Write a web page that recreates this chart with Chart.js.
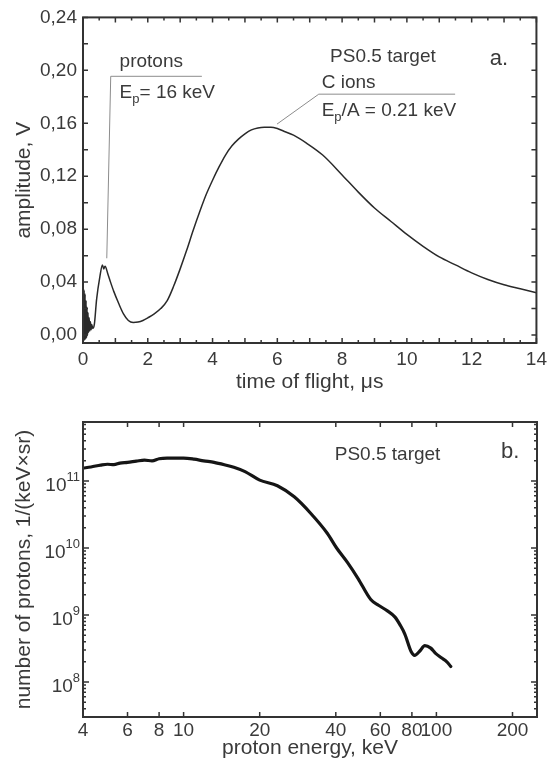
<!DOCTYPE html>
<html>
<head>
<meta charset="utf-8">
<script src="https://cdn.jsdelivr.net/npm/chart.js@4.4.1/dist/chart.umd.min.js"></script>
<style>
  html, body { margin: 0; padding: 0; background: #fff; }
  canvas { display: block; }
</style>
</head>
<body>
<canvas id="tof" width="552" height="400"></canvas>
<canvas id="spectrum" width="552" height="362"></canvas>
<script>
// panel a: time-of-flight signal
const tofTime = [0, 0.02, 0.035, 0.05, 0.065, 0.08, 0.095, 0.11, 0.125, 0.14, 0.155, 0.17, 0.19, 0.21, 0.23, 0.25, 0.27, 0.3,
  0.35, 0.42, 0.52, 0.6, 0.64, 0.68, 0.77, 0.85, 0.95, 1.1, 1.25, 1.4, 1.55, 1.7, 1.85, 2.0, 2.2, 2.4, 2.6, 2.8,
  3.0, 3.2, 3.4, 3.6, 3.8, 4.0, 4.2, 4.4, 4.6, 4.8, 5.0, 5.2, 5.4, 5.6, 5.8, 6.0, 6.2, 6.5, 6.9, 7.4, 8.0, 8.5,
  9.0, 9.5, 10.0, 10.5, 11.0, 11.5, 12.0, 12.5, 13.0, 13.5, 14.0];
const tofAmplitude = [0.030, -0.004, 0.034, -0.004, 0.031, -0.003, 0.026, -0.002, 0.021, 0.000, 0.017, 0.002, 0.013, 0.003, 0.010, 0.004, 0.008, 0.005,
  0.008, 0.027, 0.044, 0.053, 0.050, 0.052, 0.046, 0.040, 0.033, 0.024, 0.016, 0.011, 0.0095, 0.0098, 0.011, 0.013, 0.016, 0.020, 0.026, 0.037,
  0.050, 0.064, 0.079, 0.093, 0.106, 0.117, 0.127, 0.136, 0.143, 0.148, 0.152, 0.155, 0.1565, 0.157, 0.157, 0.156, 0.154, 0.151, 0.145, 0.136, 0.121, 0.108,
  0.096, 0.086, 0.076, 0.067, 0.059, 0.053, 0.047, 0.042, 0.038, 0.035, 0.032];
const tofTicks = [0, 2, 4, 6, 8, 10, 12, 14];
const ampTicks = [0, 0.04, 0.08, 0.12, 0.16, 0.20, 0.24];

// panel b: proton energy spectrum
const protonEnergy = [4, 4.3, 4.7, 5.0, 5.3, 5.6, 6.0, 6.5, 7.0, 7.5, 8.0, 8.6, 9.3, 10, 11, 12, 13.2, 14.5, 15.8, 17.5,
  20, 23.5, 27.4, 31.8, 37, 40.3, 44.6, 49, 55, 59, 64, 68.6, 72, 75, 79.6, 82, 86, 90, 95, 99, 104.6, 110, 114];
const protonCount = [1.56e11, 1.62e11, 1.73e11, 1.78e11, 1.75e11, 1.85e11, 1.9e11, 1.98e11, 2.05e11, 2.0e11, 2.15e11, 2.2e11, 2.2e11, 2.2e11, 2.12e11, 2.0e11, 1.9e11, 1.75e11, 1.6e11, 1.38e11,
  1.03e11, 8.5e10, 5.8e10, 3.3e10, 1.66e10, 1.0e10, 6.0e9, 3.5e9, 1.7e9, 1.4e9, 1.15e9, 9.3e8, 7e8, 5.2e8, 2.8e8, 2.5e8, 2.9e8, 3.5e8, 3.2e8, 2.7e8, 2.3e8, 2.0e8, 1.7e8];
const energyTicks = [4, 6, 8, 10, 20, 40, 60, 80, 100, 200];
const countTicks = [1e8, 1e9, 1e10, 1e11];

const textColor = '#3a3a3a';
const fontFamily = '"Liberation Sans", Arial, sans-serif';
Chart.defaults.font.family = fontFamily;
Chart.defaults.color = textColor;

// box round the plot + inward tick marks on all four sides
const frame = {
  id: 'frame',
  afterDatasetsDraw(chart, args, o) {
    const { ctx, chartArea: a } = chart;
    const { x, y } = chart.scales;
    ctx.save();
    ctx.strokeStyle = '#333';
    ctx.lineWidth = 1.5;
    ctx.beginPath();
    for (const [v, len] of o.xMarks) {
      const px = x.getPixelForValue(v);
      if (px < a.left - 0.5 || px > a.right + 0.5) continue;
      ctx.moveTo(px, a.bottom); ctx.lineTo(px, a.bottom - len);
      ctx.moveTo(px, a.top); ctx.lineTo(px, a.top + len);
    }
    for (const [v, len] of o.yMarks) {
      const py = y.getPixelForValue(v);
      if (py < a.top - 0.5 || py > a.bottom + 0.5) continue;
      ctx.moveTo(a.left, py); ctx.lineTo(a.left + len, py);
      ctx.moveTo(a.right, py); ctx.lineTo(a.right - len, py);
    }
    ctx.stroke();
    ctx.lineWidth = 2;
    ctx.strokeRect(a.left, a.top, a.right - a.left, a.bottom - a.top);
    ctx.restore();
  }
};

// text notes (with subscripts) and leader lines, placed in data coords
const notes = {
  id: 'notes',
  afterDraw(chart, args, o) {
    const { ctx } = chart;
    const { x, y } = chart.scales;
    ctx.save();
    ctx.strokeStyle = '#8c8c8c';
    ctx.lineWidth = 1;
    for (const line of o.lines || []) {
      ctx.beginPath();
      line.forEach(([vx, vy], i) => {
        const px = x.getPixelForValue(vx), py = y.getPixelForValue(vy);
        if (i) ctx.lineTo(px, py); else ctx.moveTo(px, py);
      });
      ctx.stroke();
    }
    ctx.fillStyle = textColor;
    ctx.textBaseline = 'middle';
    ctx.textAlign = 'left';
    for (const t of o.texts || []) {
      const size = t.size || 19;
      const big = size + 'px ' + fontFamily, small = Math.round(size * 0.68) + 'px ' + fontFamily;
      let w = 0;
      for (const [s, sub] of t.parts) { ctx.font = sub ? small : big; w += ctx.measureText(s).width; }
      let px = x.getPixelForValue(t.x);
      const py = y.getPixelForValue(t.y);
      if (t.align === 'center') px -= w / 2;
      for (const [s, sub] of t.parts) {
        ctx.font = sub ? small : big;
        ctx.fillText(s, px, sub ? py + 6 : py);
        px += ctx.measureText(s).width;
      }
    }
    ctx.restore();
  }
};

// 10^n labels for the log count axis
const powerLabels = {
  id: 'powerLabels',
  afterDraw(chart) {
    const { ctx, chartArea: a } = chart;
    const y = chart.scales.y;
    ctx.save();
    ctx.fillStyle = textColor;
    ctx.textAlign = 'right';
    ctx.textBaseline = 'middle';
    for (const v of countTicks) {
      const py = y.getPixelForValue(v);
      const exp = String(Math.round(Math.log10(v)));
      ctx.font = '13px ' + fontFamily;
      const ew = ctx.measureText(exp).width;
      ctx.fillText(exp, a.left - 3, py - 4);
      ctx.font = '19px ' + fontFamily;
      ctx.fillText('10', a.left - 3 - ew, py + 5);
    }
    ctx.restore();
  }
};

const tofMarksX = [];
for (let t = 0; t <= 14; t += 0.5) tofMarksX.push([t, t % 1 === 0 ? 5 : 3]);
const tofMarksY = [];
for (let i = 0; i <= 12; i++) tofMarksY.push([i * 0.02, 5]);

new Chart(document.getElementById('tof'), {
  type: 'line',
  data: {
    datasets: [{
      data: tofTime.map((t, i) => ({ x: t, y: tofAmplitude[i] })),
      borderColor: '#2a2a2a',
      borderWidth: 1.5,
      pointRadius: 0,
      cubicInterpolationMode: 'monotone'
    }]
  },
  options: {
    responsive: false,
    animation: false,
    devicePixelRatio: 1,
    layout: { padding: { top: 16, right: 11, left: 0, bottom: 0 } },
    plugins: {
      legend: { display: false },
      tooltip: { enabled: false },
      frame: { xMarks: tofMarksX, yMarks: tofMarksY },
      notes: {
        lines: [
          [[0.734, 0.058], [0.856, 0.1955], [3.67, 0.1955]],
          [[5.99, 0.1594], [7.28, 0.182], [11.49, 0.182]]
        ],
        texts: [
          { x: 1.13, y: 0.2068, parts: [['protons']] },
          { x: 1.13, y: 0.1827, parts: [['E'], ['p', true], ['= 16 keV']] },
          { x: 9.26, y: 0.2106, align: 'center', parts: [['PS0.5 target']] },
          { x: 12.56, y: 0.2083, size: 22, parts: [['a.']] },
          { x: 7.37, y: 0.1903, parts: [['C ions']] },
          { x: 7.37, y: 0.1692, parts: [['E'], ['p', true], ['/A = 0.21 keV']] }
        ]
      }
    },
    scales: {
      x: {
        type: 'linear', min: 0, max: 14,
        afterBuildTicks: s => { s.ticks = tofTicks.map(v => ({ value: v })); },
        afterFit: s => { s.height = 57; },
        grid: { display: false, drawTicks: false },
        border: { display: false },
        ticks: { font: { size: 19 }, padding: 5, maxRotation: 0, autoSkip: false },
        title: { display: true, text: 'time of flight, μs', font: { size: 21 }, padding: { top: 0, bottom: 5 } }
      },
      y: {
        type: 'linear', min: -0.006, max: 0.24,
        afterBuildTicks: s => { s.ticks = ampTicks.map(v => ({ value: v })); },
        afterFit: s => { s.width = 83; },
        grid: { display: false, drawTicks: false },
        border: { display: false },
        ticks: { font: { size: 19 }, padding: 6, callback: v => v.toFixed(2).replace('.', ',') },
        title: { display: true, text: 'amplitude, V', font: { size: 21 }, padding: { top: 12, bottom: 0 } }
      }
    }
  },
  plugins: [frame, notes]
});

const specMarksX = energyTicks.map(v => [v, 5]);
const specMarksY = [];
for (let e = 7; e <= 11; e++) {
  for (let m = 1; m <= 9; m++) specMarksY.push([m * Math.pow(10, e), m === 1 ? 6 : 3]);
}

new Chart(document.getElementById('spectrum'), {
  type: 'line',
  data: {
    datasets: [{
      data: protonEnergy.map((e, i) => ({ x: e, y: protonCount[i] })),
      borderColor: '#151515',
      borderWidth: 3.2,
      pointRadius: 0,
      borderJoinStyle: 'round',
      borderCapStyle: 'round',
      cubicInterpolationMode: 'monotone'
    }]
  },
  options: {
    responsive: false,
    animation: false,
    devicePixelRatio: 1,
    layout: { padding: { top: 22, right: 15, left: 0, bottom: 0 } },
    plugins: {
      legend: { display: false },
      tooltip: { enabled: false },
      frame: { xMarks: specMarksX, yMarks: specMarksY },
      notes: {
        texts: [
          { x: 64.1, y: 2.44e11, align: 'center', parts: [['PS0.5 target']] },
          { x: 180, y: 2.71e11, size: 22, parts: [['b.']] }
        ]
      }
    },
    scales: {
      x: {
        type: 'logarithmic', min: 4, max: 250,
        afterBuildTicks: s => { s.ticks = energyTicks.map(v => ({ value: v })); },
        afterFit: s => { s.height = 45; },
        grid: { display: false, drawTicks: false },
        border: { display: false },
        ticks: { font: { size: 19 }, padding: 2, maxRotation: 0, autoSkip: false, callback: v => String(v) },
        title: { display: true, text: 'proton energy, keV', font: { size: 21 }, padding: { top: 0, bottom: 1 } }
      },
      y: {
        type: 'logarithmic', min: 3e7, max: 7.6e11,
        afterBuildTicks: s => { s.ticks = countTicks.map(v => ({ value: v })); },
        afterFit: s => { s.width = 83; },
        grid: { display: false, drawTicks: false },
        border: { display: false },
        ticks: { display: false },
        title: { display: true, text: 'number of protons, 1/(keV×sr)', font: { size: 21 }, padding: { top: 12, bottom: 0 } }
      }
    }
  },
  plugins: [frame, notes, powerLabels]
});
</script>
</body>
</html>
